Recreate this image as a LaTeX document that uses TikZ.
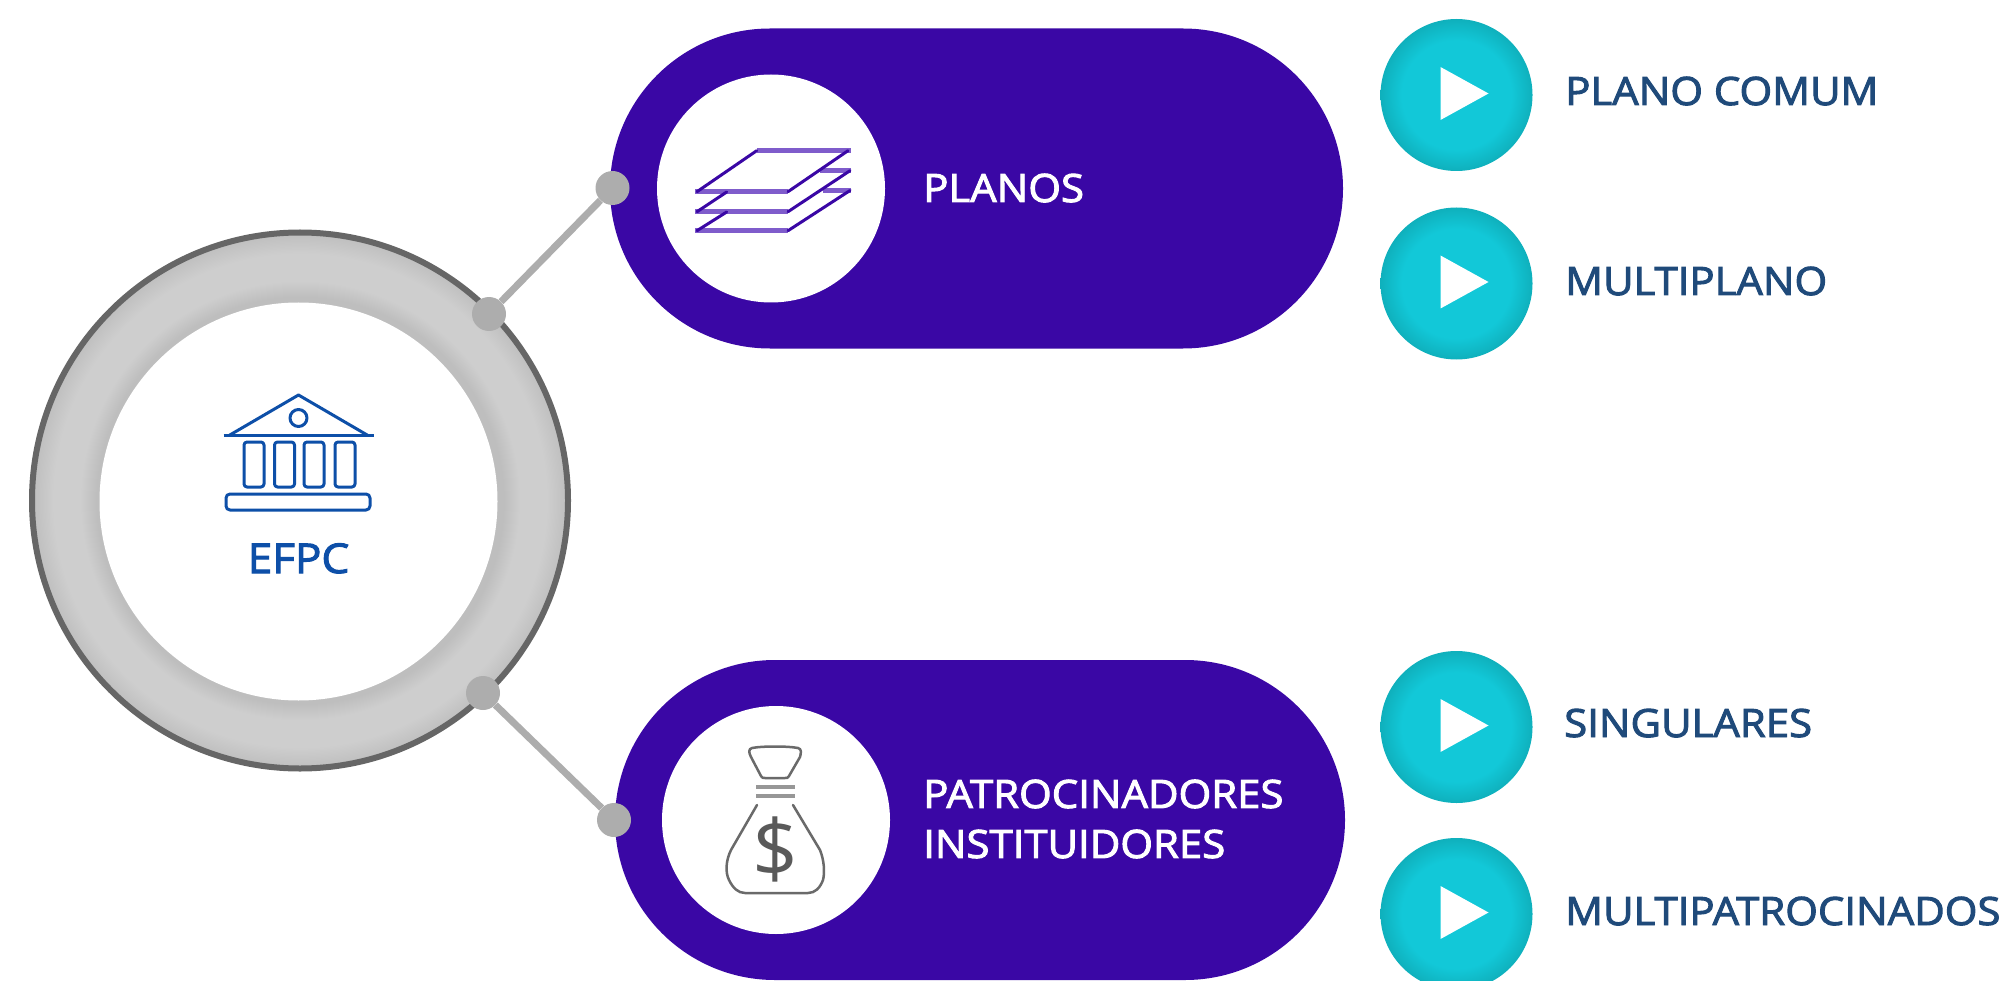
\documentclass[tikz,border=0pt]{standalone}
\usepackage{fontspec}
\setmainfont{Open Sans}
\newfontfamily\sbf{Open Sans}[FakeBold=2.5,FakeStretch=1.075]
\usetikzlibrary{shapes.misc,calc}
\definecolor{pillc}{HTML}{3A07A5}
\definecolor{tealc}{HTML}{12C8D8}
\definecolor{teald}{HTML}{0FB0BC}
\definecolor{ringc}{HTML}{CECECE}
\definecolor{ringd}{HTML}{BEBEBE}
\definecolor{ringe}{HTML}{666666}
\definecolor{dotc}{HTML}{ADADAD}
\definecolor{bluec}{HTML}{0D4FA8}
\definecolor{navyc}{HTML}{1F4A7A}
\definecolor{planec}{HTML}{3A07A5}
\definecolor{planeh}{HTML}{7F5CCB}
\definecolor{bagc}{HTML}{6A6A6A}
\pgfdeclareradialshading{ringsh}{\pgfpoint{0bp}{0bp}}{color(0bp)=(ringd); color(19bp)=(ringd); color(20.5bp)=(ringc); color(23bp)=(ringc); color(25bp)=(ringd); color(50bp)=(ringd)}
\pgfdeclareradialshading{playsh}{\pgfpoint{0bp}{0bp}}{color(0bp)=(tealc); color(18bp)=(tealc); color(25bp)=(teald); color(50bp)=(teald)}
\tikzset{
  hub/.style={circle,draw=ringe,line width=6pt,shading=ringsh,minimum size=536pt,inner sep=0pt},
  hubhole/.style={circle,fill=white,minimum size=398pt,inner sep=0pt},
  pill/.style={rounded rectangle,fill=pillc,minimum height=320pt,inner sep=0pt},
  disc/.style={circle,fill=white,minimum size=228pt,inner sep=0pt},
  joint/.style={circle,fill=dotc,minimum size=34pt,inner sep=0pt},
  link/.style={draw=dotc,line width=7pt},
  playbtn/.style={circle,shading=playsh,minimum size=152pt,inner sep=0pt},
  playtri/.style={fill=white},
  pilltext/.style={anchor=base west,inner sep=0pt,text=white,font=\fontsize{39}{50}\selectfont\sbf,align=left},
  sidetext/.style={anchor=base west,inner sep=0pt,text=navyc,font=\fontsize{39}{50}\selectfont\sbf},
  hubtext/.style={anchor=base,inner sep=0pt,text=bluec,font=\fontsize{41}{50}\selectfont\sbf},
  bldg/.style={draw=bluec,line width=3pt,line join=round},
  plane/.style={draw=planec,line width=3pt,line cap=round},
  planebar/.style={draw=planeh,line width=5pt},
  bag/.style={draw=bagc,line width=2.5pt,line join=round,line cap=round},
}
\begin{document}
\begin{tikzpicture}[x=1pt,y=-1pt]
\useasboundingbox (0,0) rectangle (2009,981);
\clip (0,0) rectangle (2009,981);
% hub
\node[hub] (efpc) at (300,500.5) {};
\node[hubhole] (efpchole) at (298.5,501.5) {};
\draw[bldg] (223.5,435.5) -- (373.5,435.5);
\draw[bldg] (229,435.5) -- (298.5,395) -- (368,435.5);
\draw[bldg] (298.5,418) circle (8.5pt);
\foreach \xa/\xb in {244/264,274.5/294.5,304/324,335/355}
  \draw[bldg,rounded corners=3pt] (\xa,442) rectangle (\xb,487);
\draw[bldg,rounded corners=4pt] (226,494) rectangle (370,510);
\node[hubtext] (efpclabel) at (298.5,573) {EFPC};
% pills
\node[pill,minimum width=733pt] (planos) at (976.5,188.5) {};
\node[pill,minimum width=730pt] (patro) at (980,820) {};
\node[disc] (discA) at (771,188.5) {};
\node[disc] (discB) at (776,820) {};
% stacked planes icon
\draw[planebar] (756.7,150.7) -- (851,150.7) (695,191.7) -- (788,191.7) (820,170.7) -- (851,170.7)
  (695,211.7) -- (788,211.7) (823,190.5) -- (851,190.5) (695,230.7) -- (788,230.7);
\draw[plane] (756.7,150.7) -- (697,191.7) (848,150.7) -- (788,191.7)
  (726.7,192) -- (697,211.7) (850,170.7) -- (788,211.7)
  (726.7,212) -- (697,230.7) (850,190.5) -- (788,230.7);
% money bag icon
\draw[bag] (752,748) .. controls (762,746) and (788,746) .. (798,748) .. controls (802,749) and (801,753) .. (800,757) -- (789,776) .. controls (788,778) and (787,778) .. (785,778) -- (765,778) .. controls (763,778) and (762,778) .. (761,776) -- (751,757) .. controls (749,753) and (748,749) .. (752,748) -- cycle;
\draw[bag,line width=4pt,draw=bagc!70!white,line cap=butt] (756,787) -- (795,787) (756,796) -- (795,796);
\draw[bag] (757,805) -- (731,850) .. controls (726,860) and (725,872) .. (729,880) .. controls (733,888) and (738,893) .. (745,893) -- (808,893) .. controls (815,893) and (820,888) .. (823,880) .. controls (825,872) and (824,860) .. (820,850) -- (793,805);
\node[inner sep=0pt,text=bagc!85!black,font=\fontsize{80}{80}\selectfont] (dollar) at (775,849) {\$};
% connectors
\node[joint] (ja) at (612.5,188) {};
\node[joint] (jb) at (489,314) {};
\node[joint] (jc) at (483,693) {};
\node[joint] (jd) at (614,820) {};
\draw[link] (jb) -- (ja);
\draw[link] (jc) -- (jd);
% text in pills
\node[pilltext] (tplanos) at (923,202) {PLANOS};
\node[pilltext,anchor=west] (tpatro) at (923,819) {PATROCINADORES\\INSTITUIDORES};
% play buttons
\foreach \n/\y in {a/95,b/283.5,c/727,d/914}{
  \node[playbtn] (play\n) at (1456.5,\y) {};
  \fill[playtri] ($(play\n.center)+(-16,-28)$) -- ++(48,26.5) -- ++(-48,26.5) -- cycle;
}
\node[sidetext] (t1) at (1565,105) {PLANO COMUM};
\node[sidetext] (t2) at (1565,295) {MULTIPLANO};
\node[sidetext] (t3) at (1564,737) {SINGULARES};
\node[sidetext] (t4) at (1565,925) {MULTIPATROCINADOS};
\end{tikzpicture}
\end{document}
